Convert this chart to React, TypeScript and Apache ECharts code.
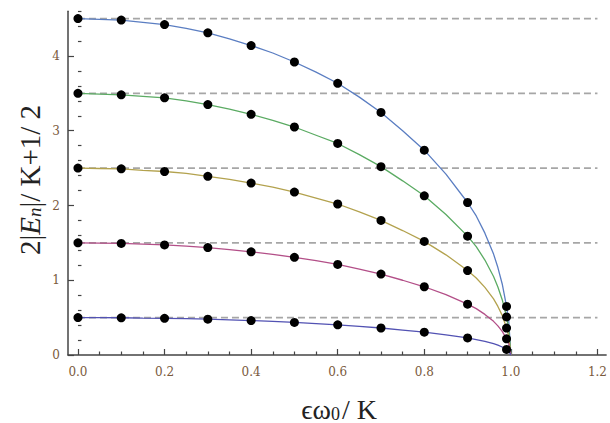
import React, { useEffect, useRef } from "react";
import * as echarts from "echarts";

// x positions sampled along the curves
const xs = [0, 0.05, 0.1, 0.15, 0.2, 0.25, 0.3, 0.35, 0.4, 0.45, 0.5, 0.55, 0.6, 0.65, 0.7, 0.75, 0.8, 0.85, 0.9, 0.92, 0.94, 0.96, 0.97, 0.98, 0.99, 0.995, 1.0];
// curve values, top to bottom
const curveN4 = [4.5, 4.49, 4.48, 4.45, 4.42, 4.37, 4.31, 4.23, 4.14, 4.04, 3.92, 3.785, 3.635, 3.45, 3.245, 3.0, 2.74, 2.42, 2.04, 1.86, 1.63, 1.35, 1.17, 0.95, 0.65, 0.46, 0];
const curveN3 = [3.5, 3.49, 3.48, 3.46, 3.44, 3.4, 3.35, 3.29, 3.22, 3.14, 3.05, 2.94, 2.83, 2.68, 2.52, 2.33, 2.13, 1.88, 1.59, 1.45, 1.27, 1.05, 0.91, 0.74, 0.51, 0.36, 0];
const curveN2 = [2.5, 2.495, 2.49, 2.47, 2.455, 2.43, 2.39, 2.35, 2.3, 2.245, 2.18, 2.1, 2.02, 1.915, 1.8, 1.665, 1.52, 1.34, 1.13, 1.03, 0.905, 0.75, 0.65, 0.53, 0.36, 0.255, 0];
const curveN1 = [1.5, 1.497, 1.493, 1.483, 1.473, 1.457, 1.437, 1.41, 1.38, 1.347, 1.307, 1.262, 1.212, 1.15, 1.082, 1.0, 0.913, 0.807, 0.68, 0.62, 0.543, 0.45, 0.39, 0.317, 0.217, 0.153, 0];
const curveN0 = [0.5, 0.499, 0.498, 0.494, 0.491, 0.486, 0.479, 0.47, 0.46, 0.449, 0.436, 0.421, 0.404, 0.383, 0.361, 0.334, 0.305, 0.27, 0.228, 0.207, 0.181, 0.151, 0.131, 0.107, 0.074, 0.052, 0];
const curves = [curveN4, curveN3, curveN2, curveN1, curveN0];
const curveColors = ["#5b7ec2", "#5bab63", "#b3a24e", "#b34f88", "#5252b3"];

// x positions where black dots are drawn
const dotXs = [0, 0.1, 0.2, 0.3, 0.4, 0.5, 0.6, 0.7, 0.8, 0.9, 0.99];

// dashed asymptote levels n + 1/2
const levels = [0.5, 1.5, 2.5, 3.5, 4.5];

// tick labels
const xTickLabels = [0, 0.2, 0.4, 0.6, 0.8, 1.0, 1.2];
const yTickLabels = [0, 1, 2, 3, 4];

const xMin = -0.023;
const xMax = 1.22;
const yMin = 0;
const yMax = 4.6;

const xMinorTicks: number[] = [];
for (let i = 1; i <= 24; i++) {
  const v = Math.round(i * 0.05 * 100) / 100;
  if (Math.round(v * 100) % 20 !== 0) xMinorTicks.push(v);
}
const yMinorTicks: number[] = [];
for (let i = 1; i <= 23; i++) {
  const v = Math.round(i * 0.2 * 10) / 10;
  if (Math.round(v * 10) % 10 !== 0) yMinorTicks.push(v);
}

const labelFont = {
  fontFamily: "DejaVu Serif",
  fontSize: 12,
  color: "#7a5a3c",
};
const axisColor = "#444";

export default function App() {
  const ref = useRef<HTMLDivElement>(null);
  useEffect(() => {
    if (!ref.current) return;
    const chart = echarts.init(ref.current, undefined, { renderer: "svg" });

    const series: any[] = [];
    levels.forEach((lv) => {
      series.push({
        type: "line",
        xAxisIndex: 0,
        yAxisIndex: 0,
        data: [
          [0, lv],
          [1.2, lv],
        ],
        symbol: "none",
        lineStyle: { color: "#a6a6a6", width: 1.7, type: [7, 4] },
        z: 1,
        silent: true,
      });
    });
    curves.forEach((c, i) => {
      series.push({
        type: "line",
        xAxisIndex: 0,
        yAxisIndex: 0,
        data: xs.map((x, j) => [x, c[j]]),
        symbol: "none",
        smooth: false,
        lineStyle: { color: curveColors[i], width: 1.3 },
        z: 2,
      });
      series.push({
        type: "scatter",
        xAxisIndex: 0,
        yAxisIndex: 0,
        data: xs
          .map((x, j) => [x, c[j]])
          .filter((p) => dotXs.some((d) => Math.abs(d - p[0]) < 1e-9)),
        symbol: "circle",
        symbolSize: 9,
        itemStyle: { color: "#000", opacity: 1 },
        z: 3,
      });
    });

    chart.setOption({
      animation: false,
      backgroundColor: "#fff",
      grid: { left: 68, right: 1.3, top: 11.15, bottom: 68, containLabel: false },
      xAxis: [
        {
          type: "value",
          min: xMin,
          max: xMax,
          position: "bottom",
          axisLine: { show: true, onZero: false, lineStyle: { color: axisColor, width: 1.5 } },
          axisTick: {
            show: true,
            inside: true,
            length: 6,
            customValues: xTickLabels,
            lineStyle: { color: axisColor, width: 1.2 },
          },
          axisLabel: {
            show: true,
            customValues: xTickLabels,
            formatter: (v: number) => v.toFixed(1),
            margin: 11,
            ...labelFont,
          },
          splitLine: { show: false },
        },
        {
          type: "value",
          min: xMin,
          max: xMax,
          position: "bottom",
          axisLine: { show: false },
          axisTick: {
            show: true,
            inside: true,
            length: 3.5,
            customValues: xMinorTicks,
            lineStyle: { color: axisColor, width: 1.2 },
          },
          axisLabel: { show: false },
          splitLine: { show: false },
        },
      ],
      yAxis: [
        {
          type: "value",
          min: yMin,
          max: yMax,
          position: "left",
          axisLine: { show: true, onZero: false, lineStyle: { color: axisColor, width: 1.5 } },
          axisTick: {
            show: true,
            inside: true,
            length: 6,
            customValues: yTickLabels,
            lineStyle: { color: axisColor, width: 1.2 },
          },
          axisLabel: {
            show: true,
            customValues: yTickLabels,
            formatter: (v: number) => String(v),
            margin: 8,
            ...labelFont,
          },
          splitLine: { show: false },
        },
        {
          type: "value",
          min: yMin,
          max: yMax,
          position: "left",
          axisLine: { show: false },
          axisTick: {
            show: true,
            inside: true,
            length: 3.5,
            customValues: yMinorTicks,
            lineStyle: { color: axisColor, width: 1.2 },
          },
          axisLabel: { show: false },
          splitLine: { show: false },
        },
      ],
      graphic: [
        {
          type: "text",
          x: 339,
          y: 407,
          style: {
            text: "{n|ϵω}{s|0}{n|/ K}",
            align: "center",
            verticalAlign: "middle",
            fill: "#222",
            rich: {
              n: { fontFamily: "Liberation Serif", fontSize: 28, fill: "#222", lineHeight: 32, verticalAlign: "bottom" },
              s: { fontFamily: "Liberation Serif", fontSize: 18, fill: "#222", lineHeight: 32, verticalAlign: "bottom", padding: [0, 2, 0, 0] },
            },
          },
        },
        {
          type: "text",
          x: 27,
          y: 180,
          rotation: Math.PI / 2,
          style: {
            text: "{n|2|}{i|E}{s|n}{n||/ K+1/ 2}",
            align: "center",
            verticalAlign: "middle",
            fill: "#222",
            rich: {
              n: { fontFamily: "Liberation Serif", fontSize: 29, fill: "#222", lineHeight: 34, verticalAlign: "bottom" },
              i: { fontFamily: "Liberation Serif", fontStyle: "italic", fontSize: 29, fill: "#222", lineHeight: 34, verticalAlign: "bottom" },
              s: { fontFamily: "Liberation Serif", fontStyle: "italic", fontSize: 19, fill: "#222", lineHeight: 30, verticalAlign: "bottom" },
            },
          },
        },
      ],
      series,
    });
    return () => chart.dispose();
  }, []);
  return (
    <div
      ref={ref}
      style={{ position: "fixed", left: 0, top: 0, width: 610, height: 423, background: "#fff" }}
    />
  );
}
